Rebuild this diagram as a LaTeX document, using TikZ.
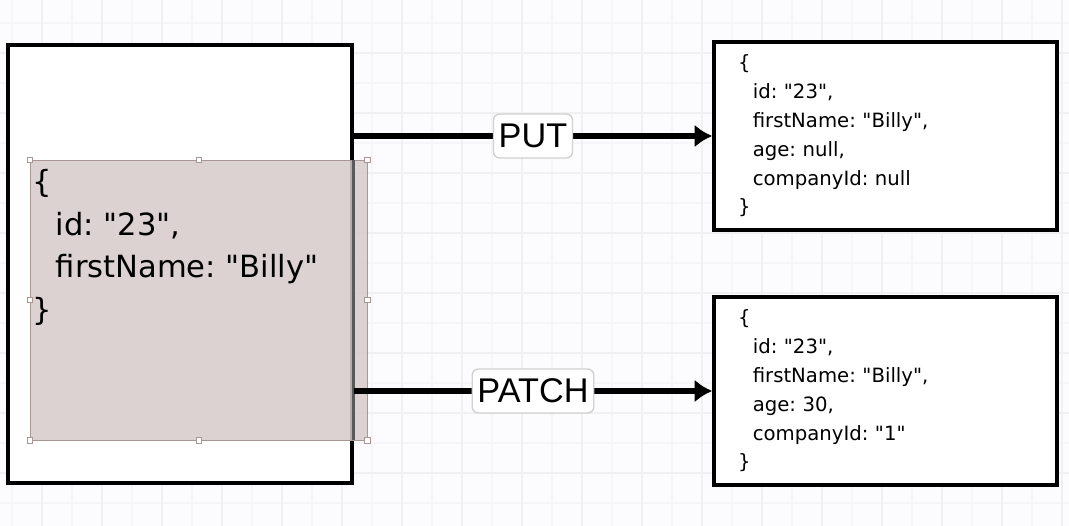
\documentclass[tikz,border=0pt]{standalone}
\usepackage{fontspec}
\setmainfont{DejaVu Sans}
\newfontfamily\verbfont{Liberation Sans}
\usetikzlibrary{arrows.meta}

\definecolor{paper}{RGB}{252,251,253}
\definecolor{gridmajor}{RGB}{240,240,243}
\definecolor{gridminor}{RGB}{246,246,248}
\definecolor{selfill}{RGB}{214,203,202}
\definecolor{selline}{RGB}{168,150,148}

\newcommand{\qt}[1]{\textquotedbl#1\textquotedbl}
\frenchspacing

\begin{document}
\begin{tikzpicture}[x=0.02cm, y=-0.02cm,
    panel/.style={draw, line width=2pt, fill=white, inner sep=0pt},
    selbox/.style={draw=selline, line width=0.5pt, fill=selfill, fill opacity=0.85, inner sep=0pt},
    handle/.style={draw=selline, fill=white, line width=0.4pt, inner sep=0pt, minimum size=3pt},
    bigjson/.style={align=left, inner sep=0pt, anchor=north west, font=\fontsize{17.4}{24.4}\selectfont},
    smalljson/.style={align=left, text width=5.9cm, inner xsep=0.48cm, font=\fontsize{11.2}{16.4}\selectfont},
    verb/.style={draw=black!18, line width=0.8pt, fill=white, rounded corners=3.5pt, inner xsep=3pt, inner ysep=2pt, minimum height=25pt, font=\verbfont\fontsize{19.5}{20}\selectfont},
    flow/.style={line width=3.4pt, -{Latex[length=10pt, width=13pt]}}
]
  \useasboundingbox (0,0) rectangle (1069,526);
  % background grid
  \fill[paper] (0,0) rectangle (1069,526);
  \foreach \x in {12,72,...,1069} \draw[gridminor, line width=0.6pt] (\x,0) -- (\x,526);
  \foreach \y in {23,83,...,526} \draw[gridminor, line width=0.6pt] (0,\y) -- (1069,\y);
  \foreach \x in {42,102,...,1069} \draw[gridmajor, line width=0.8pt] (\x,0) -- (\x,526);
  \foreach \y in {53,113,...,526} \draw[gridmajor, line width=0.8pt] (0,\y) -- (1069,\y);
  % source box with selected json
  \node[panel, minimum width=6.88cm, minimum height=8.76cm] (src) at (180,264) {};
  \node[selbox, minimum width=6.74cm, minimum height=5.6cm] (sel) at (198.5,300) {};
  \draw[black!65, line width=2pt] (src.east |- sel.north) -- (src.east |- sel.south);
  \foreach \a in {north west, north, north east, east, south east, south, south west, west}
    \node[handle] at (sel.\a) {};
  \node[bigjson] (srcjson) at ([shift={(3,9)}]sel.north west)
    {\{\\ \hspace*{0.75em}id: \qt{23},\\ \hspace*{0.75em}firstName: \qt{Billy}\\ \}};
  % results
  \node[panel, smalljson, minimum height=3.76cm] (put) at (885.5,136)
    {\{\\ \hspace*{0.75em}id: \qt{23},\\ \hspace*{0.75em}firstName: \qt{Billy},\\ \hspace*{0.75em}age: null,\\ \hspace*{0.75em}companyId: null\\ \}};
  \node[panel, smalljson, minimum height=3.76cm] (patch) at (885.5,391)
    {\{\\ \hspace*{0.75em}id: \qt{23},\\ \hspace*{0.75em}firstName: \qt{Billy},\\ \hspace*{0.75em}age: 30,\\ \hspace*{0.75em}companyId: \qt{1}\\ \}};
  % requests
  \draw[flow] (src.east |- put.west) -- node[verb] {PUT} (put.west);
  \draw[flow] (src.east |- patch.west) -- node[verb] {PATCH} (patch.west);
\end{tikzpicture}
\end{document}
